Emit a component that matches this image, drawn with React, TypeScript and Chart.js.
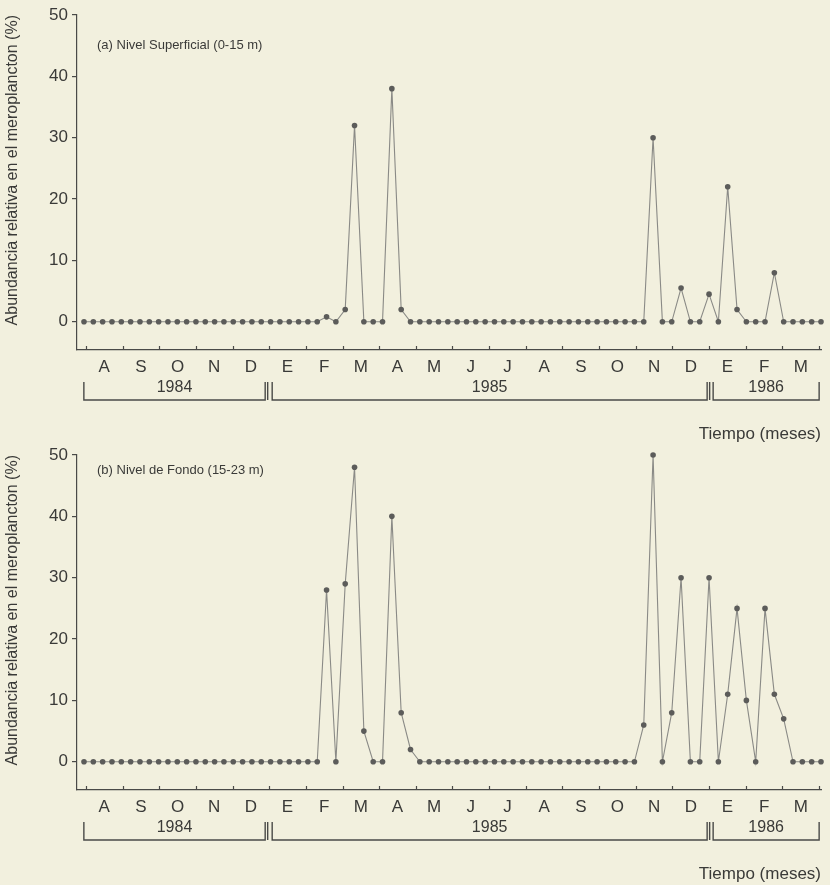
import React, { useEffect, useRef } from "react";
import { Chart, registerables } from "chart.js";

Chart.register(...registerables);

// ---- data ----
const monthLabels = ["A", "S", "O", "N", "D", "E", "F", "M", "A", "M", "J", "J", "A", "S", "O", "N", "D", "E", "F", "M"];
const yearLabels = ["1984", "1985", "1986"];
const yearStartMonth = [0, 5, 17];
const yearEndMonth = [5, 17, 20];
const yTicks = [0, 10, 20, 30, 40, 50];

const surfaceValues = [
  0, 0, 0, 0, 0, 0, 0, 0, 0, 0,
  0, 0, 0, 0, 0, 0, 0, 0, 0, 0,
  0, 0, 0, 0, 0, 0, 0.8, 0, 2, 32,
  0, 0, 0, 38, 2, 0, 0, 0, 0, 0,
  0, 0, 0, 0, 0, 0, 0, 0, 0, 0,
  0, 0, 0, 0, 0, 0, 0, 0, 0, 0,
  0, 30, 0, 0, 5.5, 0, 0, 4.5, 0, 22,
  2, 0, 0, 0, 8, 0, 0, 0, 0, 0,
];

const bottomValues = [
  0, 0, 0, 0, 0, 0, 0, 0, 0, 0,
  0, 0, 0, 0, 0, 0, 0, 0, 0, 0,
  0, 0, 0, 0, 0, 0, 28, 0, 29, 48,
  5, 0, 0, 40, 8, 2, 0, 0, 0, 0,
  0, 0, 0, 0, 0, 0, 0, 0, 0, 0,
  0, 0, 0, 0, 0, 0, 0, 0, 0, 0,
  6, 50, 0, 8, 30, 0, 0, 30, 0, 11,
  25, 10, 0, 25, 11, 7, 0, 0, 0, 0,
];

const panelTitles = ["(a) Nivel Superficial (0-15 m)", "(b) Nivel de Fondo (15-23 m)"];
const yTitle = "Abundancia relativa en el meroplancton (%)";
const xTitle = "Tiempo (meses)";

// ---- styling ----
const BG = "#f2f0de";
const TEXT = "#3a3a38";
const INK = "#4a4a48";
const LINE = "#8a8a86";
const DOT = "#5c5c5a";
const FAMILY = "'Liberation Sans', Arial, Helvetica, sans-serif";

// month boundary positions on the sample-index axis
const B0 = 0.2;
const B20 = 78.8;
const boundary = (k: number) => B0 + (k * (B20 - B0)) / 20;
const monthMid = (k: number) => (boundary(k) + boundary(k + 1)) / 2;

const decorPlugin = {
  id: "decor",
  afterDraw(chart: any, _args: any, opts: any) {
    const { ctx, chartArea, scales } = chart;
    const x = scales.x;
    const axisY = chartArea.bottom;
    ctx.save();
    ctx.strokeStyle = INK;
    ctx.lineWidth = 1.2;
    // month boundary ticks (inward)
    for (let k = 0; k <= 20; k++) {
      const px = Math.round(x.getPixelForValue(boundary(k))) + 0.5;
      ctx.beginPath();
      ctx.moveTo(px, axisY);
      ctx.lineTo(px, axisY - 4);
      ctx.stroke();
    }
    // year brackets
    const startOff = [-2, 3, 4];
    const endOff = [-4, -2, 0];
    const yTop = axisY + 32;
    const yBot = axisY + 50;
    ctx.lineWidth = 1.4;
    ctx.fillStyle = TEXT;
    ctx.font = `16px ${FAMILY}`;
    ctx.textAlign = "center";
    ctx.textBaseline = "middle";
    yearLabels.forEach((lab, i) => {
      const x1 = x.getPixelForValue(boundary(yearStartMonth[i])) + startOff[i];
      const x2 = x.getPixelForValue(boundary(yearEndMonth[i])) + endOff[i];
      ctx.beginPath();
      ctx.moveTo(x1, yTop);
      ctx.lineTo(x1, yBot);
      ctx.lineTo(x2, yBot);
      ctx.lineTo(x2, yTop);
      ctx.stroke();
      if (i < yearLabels.length - 1) {
        ctx.beginPath();
        ctx.moveTo(x2 + 2.5, yTop);
        ctx.lineTo(x2 + 2.5, yBot);
        ctx.stroke();
      }
      ctx.fillText(lab, (x1 + x2) / 2, axisY + 38);
    });
    // panel label
    ctx.font = `13px ${FAMILY}`;
    ctx.textAlign = "left";
    ctx.fillText(opts.title, chartArea.left + 20, chartArea.top + opts.titleDy);
    ctx.restore();
  },
};

function Panel({ values, title, titleDy, top }: { values: number[]; title: string; titleDy: number; top: number }) {
  const ref = useRef<HTMLCanvasElement>(null);
  useEffect(() => {
    const chart = new Chart(ref.current as HTMLCanvasElement, {
      type: "line",
      data: {
        datasets: [
          {
            data: values.map((v, i) => ({ x: i, y: v })),
            borderColor: LINE,
            borderWidth: 1.1,
            pointRadius: 2.8,
            pointBackgroundColor: DOT,
            pointBorderWidth: 0,
            tension: 0,
            clip: false,
          },
        ],
      },
      options: {
        responsive: false,
        animation: false,
        devicePixelRatio: 1,
        layout: { padding: { left: 0, right: 9, top: 15, bottom: 0 } },
        plugins: {
          legend: { display: false },
          tooltip: { enabled: false },
          decor: { title, titleDy },
        } as any,
        scales: {
          x: {
            type: "linear",
            min: -0.75,
            max: 79,
            afterBuildTicks: (s: any) => {
              s.ticks = monthLabels.map((_, k) => ({ value: monthMid(k) }));
            },
            afterFit: (s: any) => {
              s.height = 95;
            },
            grid: { display: false, drawTicks: false },
            border: { display: true, color: INK, width: 1.2 },
            ticks: {
              callback: (_v: any, i: number) => monthLabels[i],
              autoSkip: false,
              maxRotation: 0,
              padding: 7,
              color: TEXT,
              font: { family: FAMILY, size: 17 },
            },
            title: {
              display: true,
              text: xTitle,
              align: "end",
              padding: { top: 0, bottom: 0 },
              color: TEXT,
              font: { family: FAMILY, size: 17 },
            },
          },
          y: {
            min: -4.6,
            max: 50,
            afterBuildTicks: (s: any) => {
              s.ticks = yTicks.map((v) => ({ value: v }));
            },
            afterFit: (s: any) => {
              s.width = 77;
            },
            grid: { drawOnChartArea: false, drawTicks: true, tickLength: 5, color: INK, lineWidth: 1.2 },
            border: { display: true, color: INK, width: 1.2 },
            ticks: { padding: 4, color: TEXT, font: { family: FAMILY, size: 17 } },
            title: {
              display: true,
              text: yTitle,
              align: "end",
              padding: { top: 3, bottom: 0 },
              color: TEXT,
              font: { family: FAMILY, size: 16 },
            },
          },
        },
      } as any,
      plugins: [decorPlugin as any],
    });
    return () => chart.destroy();
  }, []);
  return (
    <canvas
      ref={ref}
      width={830}
      height={445}
      style={{ position: "absolute", left: 0, top, width: 830, height: 445 }}
    />
  );
}

export default function App() {
  return (
    <div style={{ position: "absolute", left: 0, top: 0, width: 830, height: 885, background: BG, overflow: "hidden" }}>
      <Panel values={surfaceValues} title={panelTitles[0]} titleDy={30} top={0} />
      <Panel values={bottomValues} title={panelTitles[1]} titleDy={15} top={440} />
    </div>
  );
}
